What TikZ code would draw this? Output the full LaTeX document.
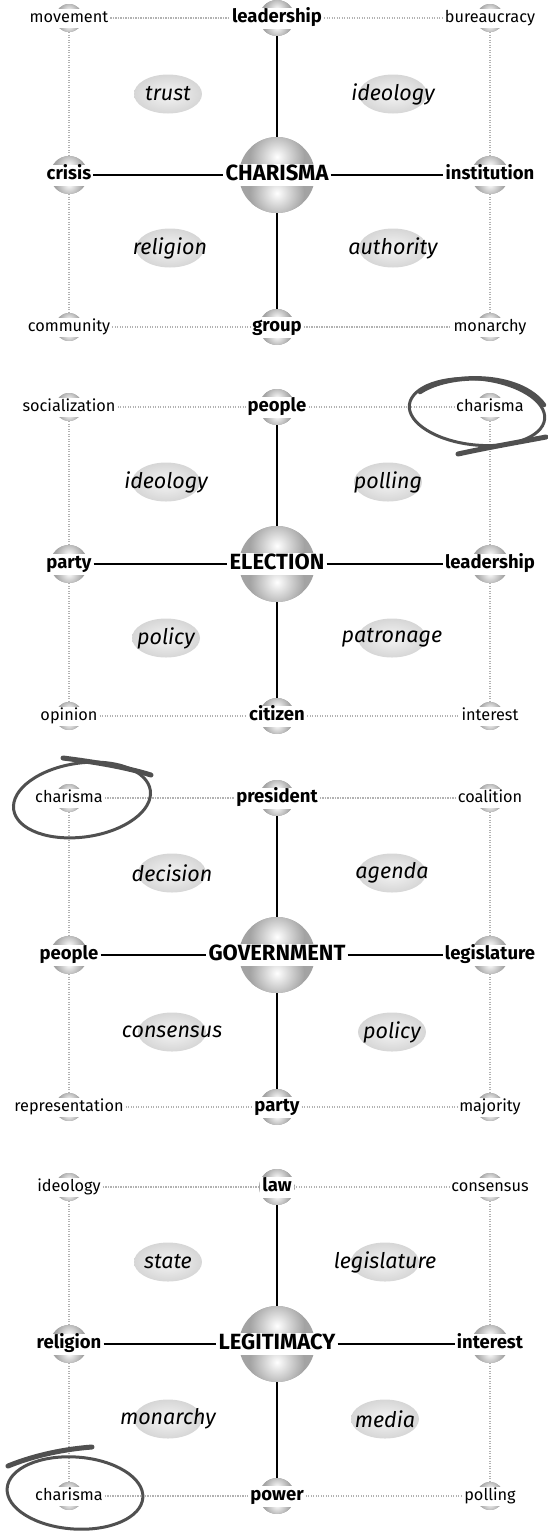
\documentclass[tikz,border=0pt]{standalone}
\usepackage{fontspec}
\setmainfont{Fira Sans}
\usetikzlibrary{shapes.geometric}
\definecolor{scribcol}{HTML}{505050}
\tikzset{
  sph/.style={circle, inner sep=0pt, minimum size=#1, path picture={
      \fill[gray!72] (path picture bounding box.south west) rectangle (path picture bounding box.north east);
      \shade[inner color=white, outer color=gray!72] ([yshift=0.24*#1]path picture bounding box.center) circle (0.36*#1);
      \shade[inner color=white, outer color=gray!72] ([yshift=-0.24*#1]path picture bounding box.center) circle (0.36*#1);
  }},
  clab/.style={font=\fontsize{22}{22}\selectfont\bfseries, fill=white, inner xsep=2pt, inner ysep=1pt, text height=15.5pt, text depth=4.5pt},
  mlab/.style={font=\fontsize{18.5}{18.5}\selectfont\bfseries, fill=white, inner xsep=2pt, inner ysep=2pt, text height=13pt, text depth=4pt},
  slab/.style={font=\fontsize{16.3}{16.3}\selectfont, fill=white, inner xsep=2pt, inner ysep=2pt, text height=11.5pt, text depth=3.5pt},
  ilab/.style={font=\fontsize{21.5}{21.5}\selectfont\itshape, inner sep=0pt},
  bub/.style={ellipse, inner sep=0pt, minimum width=68, minimum height=39, inner color=gray!8, outer color=gray!32},
  solidln/.style={line width=1.5pt, black},
  dotln/.style={line width=1.3pt, gray!60, dash pattern=on 1.1pt off 1.4pt},
  scrib/.style={scribcol, line width=3.5pt, line cap=round},
}
\newcommand\panel[9]{%
  \node[sph=76] (cs) at (277,157) {};
  \node[sph=36] (ts) at (277,0) {};
  \node[sph=38] (ls) at (69,157) {};
  \node[sph=38] (rs) at (490,157) {};
  \node[sph=36] (bs) at (277,309) {};
  \node[sph=28] (tls) at (69,0) {};
  \node[sph=28] (trs) at (490,0) {};
  \node[sph=28] (bls) at (69,309) {};
  \node[sph=28] (brs) at (490,309) {};
  \node[clab] (c) at (277,157) {#1};
  \node[mlab] (t) at (277,0) {#2};
  \node[mlab] (l) at (69,157) {#3};
  \node[mlab] (r) at (490,157) {#4};
  \node[mlab] (b) at (277,309) {#5};
  \node[slab] (tl) at (69,0) {#6};
  \node[slab] (tr) at (490,0) {#7};
  \node[slab] (bl) at (69,309) {#8};
  \node[slab] (br) at (490,309) {#9};
  \draw[solidln] (ts) -- (cs);
  \draw[solidln] (cs) -- (bs);
  \draw[solidln] (l) -- (c);
  \draw[solidln] (c) -- (r);
  \draw[dotln] (tl) -- (t);
  \draw[dotln] (t) -- (tr);
  \draw[dotln] (bl) -- (b);
  \draw[dotln] (b) -- (br);
  \draw[dotln] (tls) -- (ls);
  \draw[dotln] (ls) -- (bls);
  \draw[dotln] (trs) -- (rs);
  \draw[dotln] (rs) -- (brs);
}
\newcommand\bubble[3]{%
  \node[bub] (#1) at (#2) {};
  \node[ilab] (#1t) at (#2) {#3};
}
\begin{document}
\begin{tikzpicture}[x=1pt,y=-1pt]
\path[use as bounding box] (0,0) rectangle (547,1532);
% Panel 1
\begin{scope}[yshift=-18pt, name prefix=a-]
  \bubble{e1}{168,76}{trust}
  \bubble{e2}{393,76}{ideology}
  \bubble{e3}{170,230}{religion}
  \bubble{e4}{393,230}{authority}
  \panel{CHARISMA}{leadership}{crisis}{institution}{group}{movement}{bureaucracy}{community}{monarchy}
\end{scope}
% Panel 2
\begin{scope}[yshift=-407pt, name prefix=b-]
  \bubble{e1}{166,75}{ideology}
  \bubble{e2}{388,75}{polling}
  \bubble{e3}{166,231}{policy}
  \bubble{e4}{392,231}{patronage}
  \panel{ELECTION}{people}{party}{leadership}{citizen}{socialization}{charisma}{opinion}{interest}
\end{scope}
% Panel 3
\begin{scope}[yshift=-798pt, name prefix=c-]
  \bubble{e1}{172,75}{decision}
  \bubble{e2}{392,75}{agenda}
  \bubble{e3}{172,234}{consensus}
  \bubble{e4}{392,234}{policy}
  \panel{GOVERNMENT}{president}{people}{legislature}{party}{charisma}{coalition}{representation}{majority}
\end{scope}
% Panel 4
\begin{scope}[yshift=-1187pt, name prefix=d-]
  \bubble{e1}{168,75}{state}
  \bubble{e2}{385,75}{legislature}
  \bubble{e3}{168,232}{monarchy}
  \bubble{e4}{385,232}{media}
  \panel{LEGITIMACY}{law}{religion}{interest}{power}{ideology}{consensus}{charisma}{polling}
\end{scope}
% Scribbles
\draw[scrib, line width=3pt, rotate around={-6:(477,412)}] (477,412) ellipse (68 and 33);
\draw[scrib, line width=4.5pt] (420,392) .. controls (450,372) and (520,372) .. (544,405);
\draw[scrib, line width=5pt] (458,454) .. controls (490,447) and (525,441) .. (546,437);
\draw[scrib, line width=3pt, rotate around={8:(82,800)}] (82,800) ellipse (69 and 37);
\draw[scrib, line width=5pt] (63,758) .. controls (95,762) and (125,767) .. (151,775);
\draw[scrib, line width=3pt, rotate around={-4:(75,1493)}] (75,1493) ellipse (68 and 36);
\draw[scrib, line width=5pt] (8,1466) .. controls (35,1455) and (65,1449) .. (92,1447);
\end{tikzpicture}
\end{document}
